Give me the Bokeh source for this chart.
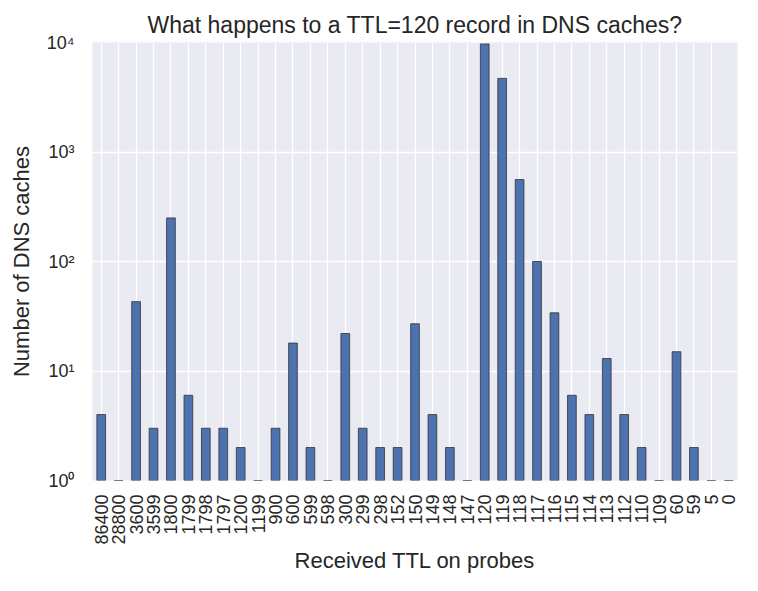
import math
from bokeh.plotting import figure
from bokeh.models import ColumnDataSource, Range1d, CustomJSTickFormatter, FixedTicker
from bokeh.embed import file_html
from bokeh.resources import INLINE

ttl_labels = ["86400", "28800", "3600", "3599", "1800", "1799", "1798", "1797",
              "1200", "1199", "900", "600", "599", "598", "300", "299", "298",
              "152", "150", "149", "148", "147", "120", "119", "118", "117",
              "116", "115", "114", "113", "112", "110", "109", "60", "59", "5", "0"]
cache_counts = [4, 1, 43, 3, 250, 6, 3, 3,
                2, 1, 3, 18, 2, 1, 22, 3, 2,
                2, 27, 4, 2, 1, 9700, 4700, 560, 100,
                34, 6, 4, 13, 4, 2, 1, 15, 2, 1, 1]
y_ticks = [1, 10, 100, 1000, 10000]

TXT = "#262626"
FONT = "Liberation Sans"

src = ColumnDataSource(dict(ttl=ttl_labels, count=cache_counts,
                            base=[1] * len(cache_counts)))

p = figure(width=742, height=575, x_range=ttl_labels,
           y_range=Range1d(1, 10000), y_axis_type="log",
           output_backend="svg", toolbar_location=None,
           min_border_left=92, min_border_right=5,
           min_border_top=42, min_border_bottom=88,
           title="What happens to a TTL=120 record in DNS caches?")

p.vbar(x="ttl", top="count", bottom="base", width=0.5, source=src,
       fill_color="#4C72B0", line_color="#333333", line_alpha=0.8, line_width=1)

p.background_fill_color = "#EAEAF2"
p.border_fill_color = "white"
p.outline_line_color = None

p.title.text_font = FONT
p.title.text_font_size = "23px"
p.title.text_font_style = "normal"
p.title.text_color = TXT
p.title.align = "center"

for g in (p.xgrid, p.ygrid):
    g.grid_line_color = "white"
    g.grid_line_width = 1.3
p.ygrid.minor_grid_line_color = None

p.yaxis.ticker = FixedTicker(ticks=y_ticks)
p.yaxis.formatter = CustomJSTickFormatter(code="""
const sup = {'0':'\u2070','1':'\u00b9','2':'\u00b2','3':'\u00b3','4':'\u2074'};
const e = Math.round(Math.log10(tick));
return '10' + String(e).split('').map(c => sup[c]).join('');
""")

for ax in (p.xaxis, p.yaxis):
    ax.axis_line_color = None
    ax.major_tick_line_color = None
    ax.minor_tick_line_color = None
    ax.major_label_text_font = FONT
    ax.major_label_text_font_size = "18px"
    ax.major_label_text_color = TXT
    ax.axis_label_text_font = FONT
    ax.axis_label_text_font_size = "22px"
    ax.axis_label_text_font_style = "normal"
    ax.axis_label_text_color = TXT

p.xaxis.major_label_orientation = math.pi / 2
p.xaxis.major_label_standoff = 8
p.xaxis.axis_label = "Received TTL on probes"
p.xaxis.axis_label_standoff = 0
p.yaxis.major_label_standoff = 12
p.yaxis.axis_label = "Number of DNS caches"
p.yaxis.axis_label_standoff = 10

open("out.html", "w").write(file_html(p, INLINE))
